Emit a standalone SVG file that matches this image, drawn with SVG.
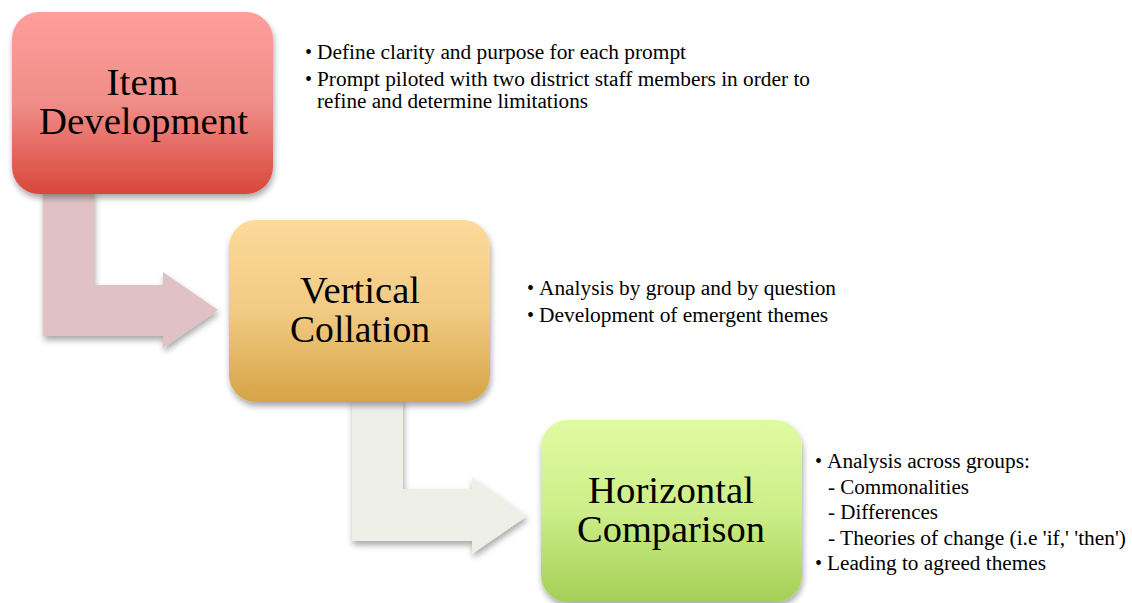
<svg xmlns="http://www.w3.org/2000/svg" width="1132" height="603" viewBox="0 0 1132 603">
<defs>
<linearGradient id="g1" x1="0" y1="0" x2="0" y2="1">
<stop offset="0" stop-color="#FE9E9B"/><stop offset="0.5" stop-color="#F08D88"/><stop offset="1" stop-color="#D9473B"/>
</linearGradient>
<linearGradient id="g2" x1="0" y1="0" x2="0" y2="1">
<stop offset="0" stop-color="#FDDA9B"/><stop offset="0.5" stop-color="#F1CB83"/><stop offset="1" stop-color="#D6A446"/>
</linearGradient>
<linearGradient id="g3" x1="0" y1="0" x2="0" y2="1">
<stop offset="0" stop-color="#DFFBA2"/><stop offset="0.5" stop-color="#CDEE88"/><stop offset="1" stop-color="#A4CF57"/>
</linearGradient>
<filter id="sh" x="-20%" y="-20%" width="140%" height="140%">
<feGaussianBlur in="SourceAlpha" stdDeviation="3"/>
<feOffset dx="1" dy="4" result="b"/>
<feComponentTransfer><feFuncA type="linear" slope="0.35"/></feComponentTransfer>
<feMerge><feMergeNode/><feMergeNode in="SourceGraphic"/></feMerge>
</filter>
</defs>
<style>
.title{font-family:"Liberation Serif","DejaVu Serif",serif;font-size:38px;fill:#000;text-anchor:middle}
.b{font-family:"Liberation Serif","Times New Roman",serif;font-size:20px;fill:#000}
</style>
<g id="connectors">
<path d="M43,190 L94,190 L94,285 L163,285 L163,272 L218,310 L163,348 L163,336 L43,336 Z" fill="#E0C1C4" filter="url(#sh)"/>
<path d="M352,398 L403,398 L403,489 L472,489 L472,477 L527,516 L472,554 L472,541 L352,541 Z" fill="#EEF0E8" filter="url(#sh)"/>
</g>
<g id="item-development">
<rect x="12" y="12" width="261" height="182" rx="27" fill="url(#g1)" filter="url(#sh)"/>
<text class="title" x="142.5" y="95" textLength="72" lengthAdjust="spacingAndGlyphs">Item</text>
<text class="title" x="143.5" y="134" textLength="209" lengthAdjust="spacingAndGlyphs">Development</text>
</g>
<g id="vertical-collation">
<rect x="229" y="220" width="261" height="182" rx="27" fill="url(#g2)" filter="url(#sh)"/>
<text class="title" x="360" y="303" textLength="120" lengthAdjust="spacingAndGlyphs">Vertical</text>
<text class="title" x="360" y="342" textLength="140" lengthAdjust="spacingAndGlyphs">Collation</text>
</g>
<g id="horizontal-comparison">
<rect x="541" y="420" width="261" height="182" rx="27" fill="url(#g3)" filter="url(#sh)"/>
<text class="title" x="671" y="503" textLength="166" lengthAdjust="spacingAndGlyphs">Horizontal</text>
<text class="title" x="671" y="542" textLength="188" lengthAdjust="spacingAndGlyphs">Comparison</text>
</g>
<g id="notes-1">
<text class="b" x="305" y="59">•</text><text class="b" x="317" y="59" textLength="369" lengthAdjust="spacingAndGlyphs">Define clarity and purpose for each prompt</text>
<text class="b" x="305" y="86">•</text><text class="b" x="317" y="86" textLength="493" lengthAdjust="spacingAndGlyphs">Prompt piloted with two district staff members in order to</text>
<text class="b" x="317" y="108" textLength="271" lengthAdjust="spacingAndGlyphs">refine and determine limitations</text>
</g>
<g id="notes-2">
<text class="b" x="527" y="295">•</text><text class="b" x="539" y="295" textLength="297" lengthAdjust="spacingAndGlyphs">Analysis by group and by question</text>
<text class="b" x="527" y="322">•</text><text class="b" x="539" y="322" textLength="289" lengthAdjust="spacingAndGlyphs">Development of emergent themes</text>
</g>
<g id="notes-3">
<text class="b" x="815" y="468">•</text><text class="b" x="827" y="468" textLength="203" lengthAdjust="spacingAndGlyphs">Analysis across groups:</text>
<text class="b" x="828" y="493.5" textLength="141" lengthAdjust="spacingAndGlyphs">- Commonalities</text>
<text class="b" x="828" y="519" textLength="110" lengthAdjust="spacingAndGlyphs">- Differences</text>
<text class="b" x="828" y="544.5" textLength="298" lengthAdjust="spacingAndGlyphs">- Theories of change (i.e 'if,' 'then')</text>
<text class="b" x="815" y="570">•</text><text class="b" x="827" y="570" textLength="219" lengthAdjust="spacingAndGlyphs">Leading to agreed themes</text>
</g>
</svg>
